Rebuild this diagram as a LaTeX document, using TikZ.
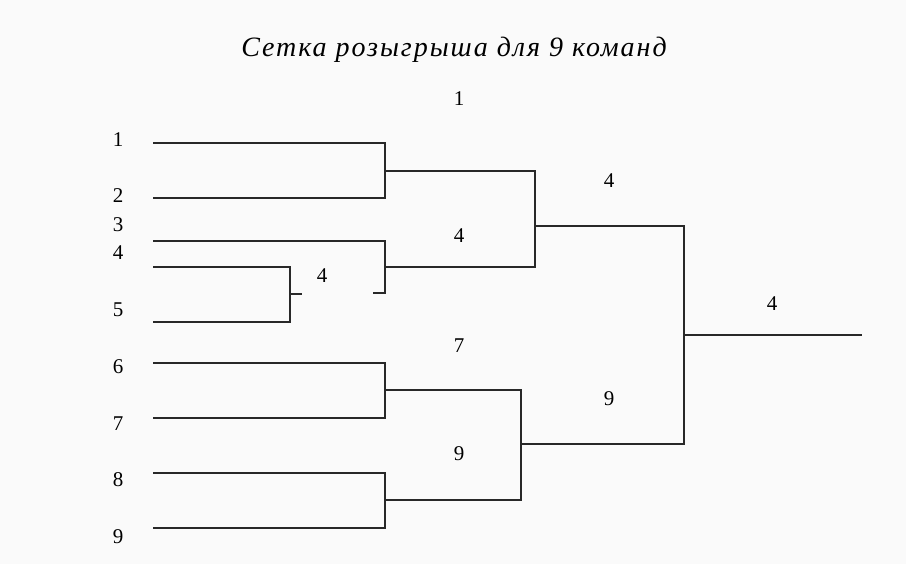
\documentclass[tikz,border=0pt]{standalone}
\usepackage{fontspec}
\setmainfont{Liberation Serif}
\newfontfamily\titlefont[LetterSpace=7]{Liberation Serif}
\usepackage{xcolor}
\definecolor{bgcol}{RGB}{250, 250, 250}
\definecolor{linecol}{RGB}{40, 40, 40}
\tikzset{
	bracket/.style={draw=linecol, line width=1.1pt},
	team/.style={font=\fontsize{21}{23}\selectfont, inner sep=0pt},
	winner/.style={font=\fontsize{21}{23}\selectfont, inner sep=0pt},
	heading/.style={font=\titlefont\fontsize{28}{30}\selectfont\itshape, inner sep=0pt}
}
\begin{document}
\begin{tikzpicture}[x=1pt, y=-1pt]
		\fill[bgcol] (0,0) rectangle (906,564);
		\useasboundingbox (0,0) rectangle (906,564);

		% title
		\node (title) [heading] at (454,50) {Сетка розыгрыша для 9 команд};

		% teams
		\node (n1) [team] at (118,140) {1};
		\node (n2) [team] at (118,196) {2};
		\node (n3) [team] at (118,225) {3};
		\node (n4) [team] at (118,253) {4};
		\node (n5) [team] at (118,310) {5};
		\node (n6) [team] at (118,367) {6};
		\node (n7) [team] at (118,424) {7};
		\node (n8) [team] at (118,480) {8};
		\node (n9) [team] at (118,537) {9};

		\coordinate (s1) at (153,143);
		\coordinate (s2) at (153,198);
		\coordinate (s3) at (153,241);
		\coordinate (s4) at (153,267);
		\coordinate (s5) at (153,322);
		\coordinate (s6) at (153,363);
		\coordinate (s7) at (153,418);
		\coordinate (s8) at (153,473);
		\coordinate (s9) at (153,528);

		% junctions
		\coordinate (j45) at (290,294);
		\coordinate (t45) at (302,294);
		\coordinate (j12) at (385,171);
		\coordinate (j3) at (385,267);
		\coordinate (t3) at (373,293);
		\coordinate (j67) at (385,390);
		\coordinate (j89) at (385,500);
		\coordinate (ja) at (535,226);
		\coordinate (jb) at (521,444);
		\coordinate (jf) at (684,335);
		\coordinate (champ) at (862,335);

		% winners
		\node (w45) [winner] at (322,276) {4};
		\node (w12) [winner] at (459,99) {1};
		\node (w3) [winner] at (459,236) {4};
		\node (w67) [winner] at (459,346) {7};
		\node (w89) [winner] at (459,454) {9};
		\node (wa) [winner] at (609,181) {4};
		\node (wb) [winner] at (609,399) {9};
		\node (wf) [winner] at (772,304) {4};

		% first round
		\draw[bracket] (s4) -| (j45) |- (s5);
		\draw[bracket] (j45) -- (t45);
		\draw[bracket] (s1) -| (j12) |- (s2);
		\draw[bracket] (s3) -| (j3) |- (t3);
		\draw[bracket] (s6) -| (j67) |- (s7);
		\draw[bracket] (s8) -| (j89) |- (s9);

		% semifinals
		\draw[bracket] (j12) -| (ja) |- (j3);
		\draw[bracket] (j67) -| (jb) |- (j89);

		% final
		\draw[bracket] (ja) -| (jf) |- (jb);
		\draw[bracket] (jf) -- (champ);
\end{tikzpicture}
\end{document}
